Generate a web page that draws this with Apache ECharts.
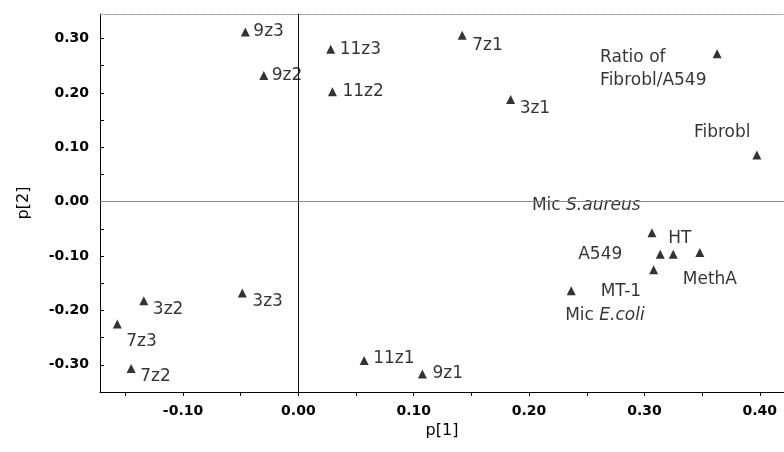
<!DOCTYPE html>
<html>
<head>
<meta charset="utf-8">
<script src="https://cdn.jsdelivr.net/npm/echarts@6/dist/echarts.min.js"></script>
<style>
  html, body { margin: 0; padding: 0; background: #fff; }
  #main { width: 784px; height: 452px; }
</style>
</head>
<body>
<div id="main"></div>
<script>
// point names and loadings
var names = ['9z3', '9z2', '11z3', '11z2', '7z1', '3z1', 'Ratio', 'Fibrobl',
             'MicSA', 'A549', 'HT', 'MethA', 'MT-1', 'MicEC',
             '3z2', '7z3', '7z2', '3z3', '11z1', '9z1'];
var p1 = [-0.046, -0.030, 0.028, 0.0295, 0.142, 0.184, 0.363, 0.3975,
          0.3065, 0.3137, 0.325, 0.348, 0.308, 0.2365,
          -0.134, -0.157, -0.145, -0.0486, 0.057, 0.1075];
var p2 = [0.312, 0.232, 0.280, 0.202, 0.306, 0.188, 0.272, 0.0857,
          -0.057, -0.0965, -0.0965, -0.0936, -0.125, -0.164,
          -0.182, -0.225, -0.307, -0.168, -0.292, -0.317];

var xTicks = [-0.15, -0.10, -0.05, 0.00, 0.05, 0.10, 0.15, 0.20, 0.25, 0.30, 0.35, 0.40];
var xLabels = [-0.10, 0.00, 0.10, 0.20, 0.30, 0.40];
var yTicks = [-0.30, -0.25, -0.20, -0.15, -0.10, -0.05, 0.00, 0.05, 0.10, 0.15, 0.20, 0.25, 0.30];
var yLabels = [-0.30, -0.20, -0.10, 0.00, 0.10, 0.20, 0.30];

// label text and placement (offset from marker centre, text left-aligned)
var labelText = {
  'Ratio': 'Ratio of\nFibrobl/A549',
  'MicSA': '{n|Mic }{i|S.aureus}',
  'MicEC': '{n|Mic }{i|E.coli}'
};
var labelOffset = {
  '9z3': [8, 0], '9z2': [8, 0], '11z3': [9, 0], '11z2': [10, 0],
  '7z1': [10, 10], '3z1': [9, 9], 'Ratio': [-117, 15], 'Fibrobl': [-63, -22],
  'MicSA': [-120, -27], 'A549': [-82, 0], 'HT': [-5, -16], 'MethA': [-17, 27],
  'MT-1': [-53, 22], 'MicEC': [-6, 25],
  '3z2': [9, 9], '7z3': [9, 18], '7z2': [9, 8], '3z3': [10, 9],
  '11z1': [9, -2], '9z1': [10, 0]
};

var points = names.map(function (n, i) {
  return {
    name: n,
    value: [p1[i], p2[i]],
    label: {
      formatter: labelText[n] || n,
      offset: labelOffset[n]
    }
  };
});

var FONT = 'DejaVu Sans';
var fmt = function (v) { return v.toFixed(2); };

var myChart = echarts.init(document.getElementById('main'));

var option = {
  animation: false,
  grid: { left: 100, right: 0, top: 14, bottom: 60 },
  xAxis: [{
    type: 'value',
    min: -0.172,
    max: 0.421,
    name: 'p[1]',
    nameLocation: 'middle',
    nameGap: 27,
    nameTextStyle: { fontFamily: FONT, fontSize: 16, color: '#000' },
    splitLine: { show: false },
    axisLine: { onZero: false, lineStyle: { color: '#000', width: 1 } },
    axisTick: { customValues: xTicks, length: 4, lineStyle: { color: '#000' } },
    axisLabel: {
      customValues: xLabels,
      formatter: fmt,
      margin: 12,
      fontFamily: FONT, fontWeight: 'bold', fontSize: 14, color: '#000'
    }
  }, {
    type: 'value',
    position: 'top',
    min: -0.172,
    max: 0.421,
    splitLine: { show: false },
    axisLine: { onZero: false, lineStyle: { color: '#999', type: 'dotted', width: 1 } },
    axisTick: { show: false },
    axisLabel: { show: false }
  }],
  yAxis: {
    type: 'value',
    min: -0.35,
    max: 0.345,
    name: 'p[2]',
    nameLocation: 'middle',
    nameGap: 68,
    nameTextStyle: { fontFamily: FONT, fontSize: 16, color: '#000' },
    splitLine: { show: false },
    axisLine: { onZero: false, lineStyle: { color: '#000', width: 1 } },
    axisTick: { customValues: yTicks, inside: true, length: 4, lineStyle: { color: '#000' } },
    axisLabel: {
      customValues: yLabels,
      formatter: fmt,
      margin: 11,
      fontFamily: FONT, fontWeight: 'bold', fontSize: 14, color: '#000'
    }
  },
  series: [{
    type: 'scatter',
    xAxisIndex: 0,
    symbol: 'triangle',
    symbolSize: 9,
    itemStyle: { color: '#000' },
    label: {
      show: true,
      position: 'inside',
      align: 'left',
      verticalAlign: 'middle',
      fontFamily: FONT,
      fontSize: 17,
      lineHeight: 23,
      color: '#000',
      rich: {
        n: { fontFamily: FONT, fontSize: 17, color: '#000' },
        i: { fontFamily: FONT, fontSize: 17, fontStyle: 'italic', color: '#000' }
      }
    },
    data: points,
    markLine: {
      silent: true,
      symbol: 'none',
      label: { show: false },
      data: [
        { xAxis: 0, lineStyle: { color: '#111', type: 'solid', width: 1 } },
        { yAxis: 0, lineStyle: { color: '#888', type: 'solid', width: 1 } }
      ]
    }
  }]
};

myChart.setOption(option);
</script>
</body>
</html>
